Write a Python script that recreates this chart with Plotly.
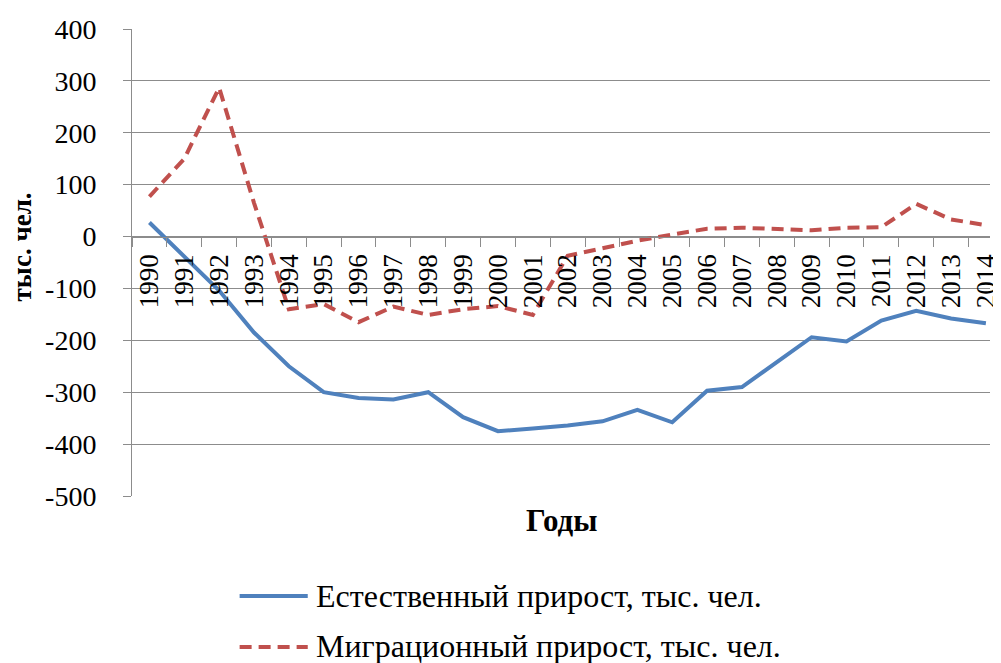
import plotly.graph_objects as go

years = [str(y) for y in range(1990, 2015)]
natural = [27, -38, -104, -185, -250, -300, -311, -314, -300, -348, -375, -370,
           -364, -356, -334, -358, -297, -290, -242, -194, -202, -162, -143, -158, -167]
migration = [77, 150, 287, 65, -140, -130, -165, -135, -151, -140, -134, -151,
             -37, -23, -8, 4, 15, 17, 14, 12, 17, 18, 63, 33, 22]
y_ticks = list(range(-500, 401, 100))

name_nat = "Естественный прирост, тыс. чел."
name_mig = "Миграционный прирост, тыс. чел."
c_nat = "#4F81BD"
c_mig = "#C0504D"
font_family = "Liberation Serif"
grid = "#8c8c8c"

OFF = 8  # page body margin
W, H = 993, 655
ml, mr, mt = 132 - OFF, 0, 29 - OFF
mb = H - (496 - OFF)
ph = H - mt - mb
pw = W - ml - mr

fig = go.Figure()
fig.add_trace(go.Scatter(x=years, y=natural, mode="lines", name=name_nat,
                         line=dict(color=c_nat, width=4), showlegend=False))
fig.add_trace(go.Scatter(x=years, y=migration, mode="lines", name=name_mig,
                         line=dict(color=c_mig, width=4, dash="12px,7px"), showlegend=False))

ymin, ymax = -500, 400
zero_pos = (0 - ymin) / (ymax - ymin)

fig.update_layout(
    width=W, height=H,
    margin=dict(l=ml, r=mr, t=mt, b=mb),
    paper_bgcolor="white", plot_bgcolor="white",
    font=dict(family=font_family, size=28, color="black"),
    xaxis=dict(type="category", categoryorder="array", categoryarray=years,
               range=[-0.5, -0.5 + pw / 35.3],
               anchor="free", position=zero_pos,
               showline=True, linecolor=grid, linewidth=1,
               ticks="outside", tickson="boundaries", ticklen=9, tickcolor=grid,
               tickangle=-90, ticklabelstandoff=6, showgrid=False, zeroline=False,
               tickfont=dict(family=font_family, size=27, color="black")),
    yaxis=dict(range=[ymin, ymax], tickvals=y_ticks, ticktext=[str(v) for v in y_ticks],
               showgrid=True, gridcolor=grid, gridwidth=1, zeroline=False,
               showline=True, linecolor=grid, linewidth=1,
               ticks="outside", ticklen=8, tickcolor=grid, ticklabelstandoff=21,
               tickfont=dict(family=font_family, size=28, color="black")),
)

def px_x(p):
    return (p - OFF - ml) / pw

def px_y(p):
    return (H - mb - (p - OFF)) / ph

annotations = [
    dict(text="<b>тыс. чел.</b>", x=px_x(21), y=px_y(247), xref="paper", yref="paper",
         xanchor="center", yanchor="middle",
         textangle=-90, showarrow=False, font=dict(size=27, family=font_family)),
    dict(text="<b>Годы</b>", x=px_x(568), y=px_y(520), xref="paper", yref="paper",
         xanchor="center", yanchor="middle",
         showarrow=False, font=dict(size=31, family=font_family)),
    dict(text=name_nat, x=px_x(316), y=px_y(596), xref="paper", yref="paper",
         xanchor="left", yanchor="middle", showarrow=False, font=dict(size=32, family=font_family)),
    dict(text=name_mig, x=px_x(316), y=px_y(646), xref="paper", yref="paper",
         xanchor="left", yanchor="middle", showarrow=False, font=dict(size=32, family=font_family)),
]
shapes = [
    dict(type="line", xref="paper", yref="paper", x0=px_x(241), x1=px_x(310),
         y0=px_y(596), y1=px_y(596), line=dict(color=c_nat, width=4)),
    dict(type="line", xref="paper", yref="paper", x0=px_x(241), x1=px_x(310),
         y0=px_y(647), y1=px_y(647), line=dict(color=c_mig, width=4, dash="12px,7px")),
]
fig.update_layout(annotations=annotations, shapes=shapes)

fig.write_html("out.html")
